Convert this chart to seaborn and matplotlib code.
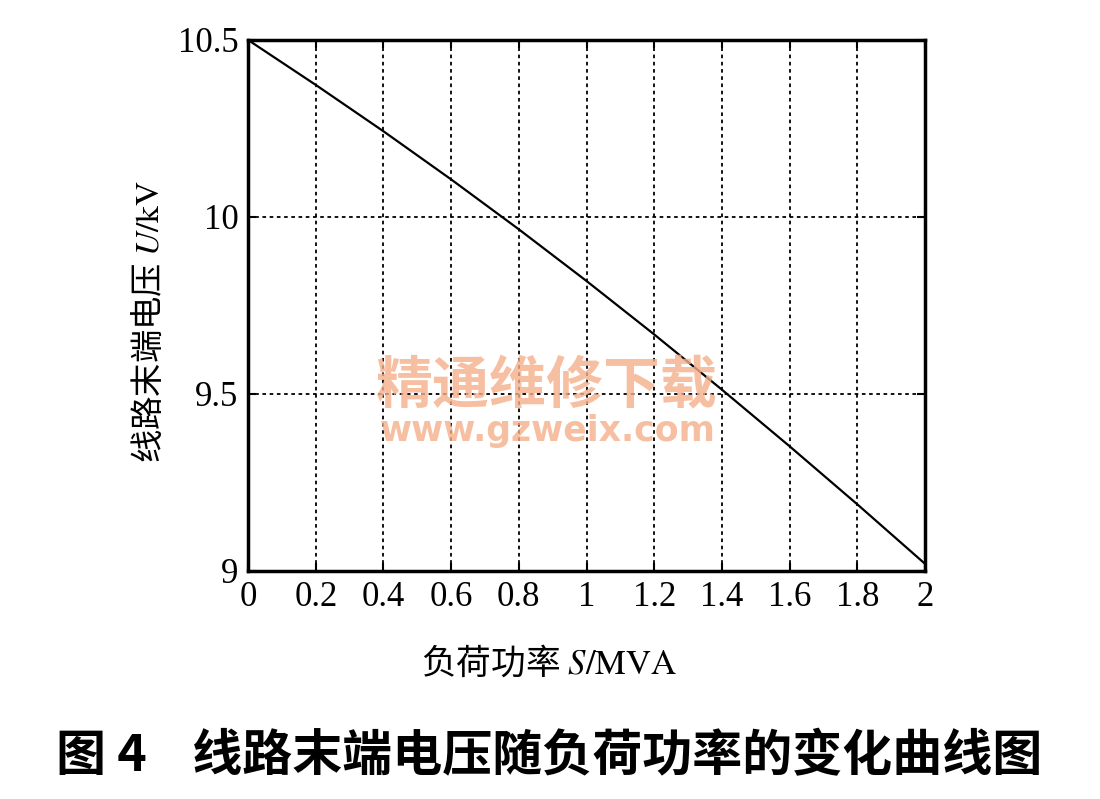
import numpy as np
import pandas as pd
import matplotlib
matplotlib.use("Agg")
import matplotlib.pyplot as plt
import seaborn as sns

# data
load_s = [0.0, 0.2, 0.4, 0.6, 0.8, 1.0, 1.2, 1.4, 1.6, 1.8, 2.0]
voltage_u = [10.5, 10.373, 10.242, 10.106, 9.965, 9.819, 9.668, 9.512, 9.352, 9.188, 9.02]

x_ticks = [0, 0.2, 0.4, 0.6, 0.8, 1, 1.2, 1.4, 1.6, 1.8, 2]
x_tick_labels = ["0", "0.2", "0.4", "0.6", "0.8", "1", "1.2", "1.4", "1.6", "1.8", "2"]
y_ticks = [9, 9.5, 10, 10.5]
y_tick_labels = ["9", "9.5", "10", "10.5"]

df = pd.DataFrame({"S": load_s, "U": voltage_u})

sns.set_style("ticks")
plt.rcParams["font.family"] = ["Liberation Serif", "Noto Sans CJK SC", "DejaVu Sans"]
plt.rcParams["mathtext.fontset"] = "stix"
plt.rcParams["text.color"] = "black"
plt.rcParams["axes.labelcolor"] = "black"

fig = plt.figure(figsize=(11, 7.99), dpi=100)
ax = fig.add_axes([0.2255, 0.2854, 0.6155, 0.6646])

sns.lineplot(data=df, x="S", y="U", color="black", linewidth=1.6, ax=ax)

ax.set_xlim(0, 2)
ax.set_ylim(9, 10.5)
ax.set_xticks(x_ticks)
ax.set_xticklabels(x_tick_labels)
ax.set_yticks(y_ticks)
ax.set_yticklabels(y_tick_labels)
ax.tick_params(direction="in", length=6, width=1.5, labelsize=25, pad=7,
               top=True, right=True, colors="black")
ax.grid(True, color="black", linestyle=(0, (2, 2)), linewidth=1.3)

for sp in ax.spines.values():
    sp.set_visible(True)
    sp.set_linewidth(2.5)
    sp.set_color("black")

# labels: Chinese part in a CJK font, the quantity in serif math
ax.set_xlabel(r"负荷功率 $S\mathrm{/MVA}$", fontsize=25,
              family=["Noto Sans CJK SC"])
ax.xaxis.set_label_coords(0.445, -0.14)
ax.set_ylabel(r"线路末端电压 $U\mathrm{/kV}$", fontsize=24,
              family=["Noto Sans CJK SC"])
ax.yaxis.set_label_coords(-0.12, 0.47)

# watermark
fig.text(0.497, 0.517, "精通维修下载", fontsize=41, color="#f5b08a", alpha=0.8,
         fontweight="bold", ha="center", va="center", family=["Noto Sans CJK SC"])
fig.text(0.498, 0.461, "www.gzweix.com", fontsize=25, color="#f5b08a", alpha=0.8,
         ha="center", va="center", family=["DejaVu Sans"], fontweight="bold")

fig.text(0.499, 0.053, "图 4    线路末端电压随负荷功率的变化曲线图", fontsize=36,
         fontweight="bold", color="black", ha="center", va="center",
         family=["Noto Sans CJK SC", "DejaVu Sans"])

fig.savefig("out.png", dpi=100, facecolor="white")
